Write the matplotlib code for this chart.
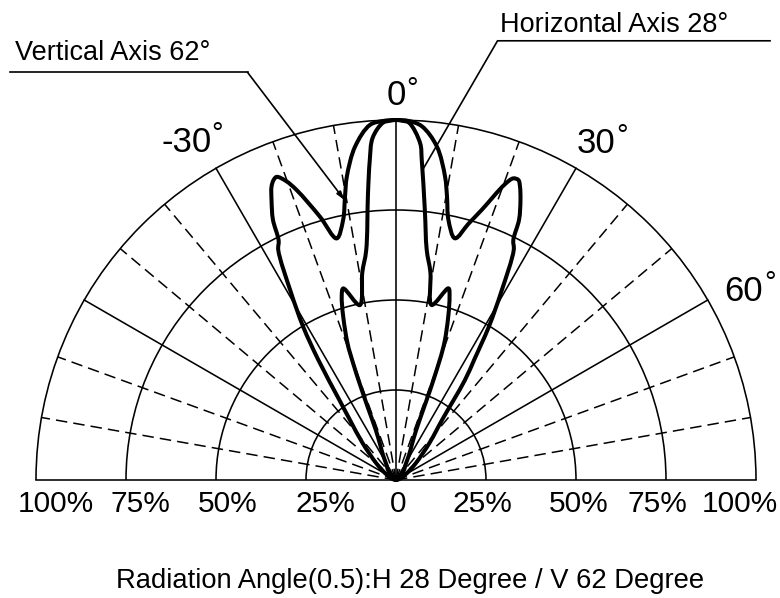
import numpy as np
import matplotlib
matplotlib.use("Agg")
import matplotlib.pyplot as plt
from matplotlib.patches import Arc, PathPatch
from matplotlib.path import Path

plt.rcParams['font.family'] = ['Liberation Sans', 'DejaVu Sans']

# ---------------- data ----------------
ring_levels = [0.25, 0.50, 0.75, 1.00]
solid_spokes = [-60, -30, 0, 30, 60]
dashed_spokes = [-80, -70, -50, -40, -20, -10, 10, 20, 40, 50, 70, 80]

pct_labels = ['100%', '75%', '50%', '25%', '0', '25%', '50%', '75%', '100%']
angle_labels = ['-30', '0', '30', '60']

# Horizontal axis (narrow beam, 28 deg)
h_angle = [-90, -65, -50, -39, -32, -27.5, -24, -22, -21.2, -20.7, -20.3, -19.4,
           -16.5, -15.4, -11.7, -9.2, -7.4, -5.6, -4.7, -3.9, -2.1, -1.0, 0,
           1.0, 2.1, 4.1, 4.6, 6.1, 7.6, 9.4, 11.5, 15.3, 16.3, 19.3, 20.5, 21.0,
           22, 24, 27.5, 32, 39, 50, 65, 90]
h_rel = [0.0, 0.005, 0.015, 0.035, 0.05, 0.078, 0.11, 0.15, 0.22, 0.28, 0.33, 0.41,
         0.531, 0.552, 0.496, 0.585, 0.643, 0.798, 0.89, 0.953, 0.993, 0.998, 1.0,
         0.998, 0.993, 0.938, 0.892, 0.754, 0.645, 0.585, 0.496, 0.552, 0.53, 0.41, 0.30, 0.23,
         0.15, 0.11, 0.078, 0.05, 0.035, 0.015, 0.005, 0.0]

# Vertical axis (wide beam with side lobes, 62 deg)
v_angle = [-90, -75, -60, -50, -42, -37.5, -35.3, -32.9, -31.2, -29.2, -27.1, -26.1,
           -25.3, -24.0, -23.0, -22.2, -21.5, -20.2, -18.9, -16.1, -13.8, -11.5, -10.2,
           -9.2, -7.0, -4.2, -2.0, 0,
           2.0, 4.2, 7.0, 9.2, 10.2, 11.4, 13.7, 15.8, 17.6, 20.2, 21.25, 22.2, 22.9, 24.0,
           25.3, 26.05, 27.1, 29.2, 31.2, 33.0, 34.6, 37.5, 42, 50, 60, 75, 90]
v_rel = [0.0, 0.01, 0.03, 0.07, 0.14, 0.21, 0.272, 0.397, 0.498, 0.60, 0.718, 0.741,
         0.80, 0.85, 0.885, 0.90, 0.905, 0.885, 0.851, 0.761, 0.691, 0.737, 0.80,
         0.854, 0.933, 0.989, 0.998, 1.0,
         0.998, 0.985, 0.933, 0.853, 0.80, 0.737, 0.691, 0.74, 0.787, 0.875, 0.899, 0.90, 0.885, 0.85,
         0.80, 0.742, 0.718, 0.60, 0.498, 0.40, 0.337, 0.21, 0.14, 0.07, 0.03, 0.01, 0.0]

title = 'Radiation Angle(0.5):H 28 Degree / V 62 Degree'
h_label = 'Horizontal Axis 28°'
v_label = 'Vertical Axis 62°'


def to_xy(theta_deg, r):
    t = np.radians(np.asarray(theta_deg, dtype=float))
    r = np.asarray(r, dtype=float)
    return r * np.sin(t), r * np.cos(t)


def smooth_path(x, y, alpha=0.5):
    """Centripetal Catmull-Rom through the points, as cubic Bezier path."""
    P = np.column_stack([x, y])
    P = np.vstack([2 * P[0] - P[1], P, 2 * P[-1] - P[-2]])
    verts = [P[1]]
    codes = [Path.MOVETO]
    for i in range(1, len(P) - 2):
        p0, p1, p2, p3 = P[i - 1], P[i], P[i + 1], P[i + 2]
        d0 = max(np.linalg.norm(p1 - p0) ** alpha, 1e-9)
        d1 = max(np.linalg.norm(p2 - p1) ** alpha, 1e-9)
        d2 = max(np.linalg.norm(p3 - p2) ** alpha, 1e-9)
        m1 = (p2 - p1) + d1 * ((p1 - p0) / d0 - (p2 - p0) / (d0 + d1))
        m2 = (p2 - p1) + d1 * ((p3 - p2) / d2 - (p3 - p1) / (d1 + d2))
        verts += [p1 + m1 / 3, p2 - m2 / 3, p2]
        codes += [Path.CURVE4] * 3
    return Path(verts, codes)


# ---------------- figure ----------------
fig = plt.figure(figsize=(7.80, 5.98), dpi=100)
ax = fig.add_axes([0, 0, 1, 1])
ax.set_xlim(-396 / 360, (780 - 396) / 360)
ax.set_ylim((480 - 598) / 360, 480 / 360)
ax.set_aspect('equal')
ax.axis('off')

grid_lw = 1.15
for lvl in ring_levels:
    ax.add_patch(Arc((0, 0), 2 * lvl, 2 * lvl, theta1=0, theta2=180,
                     lw=grid_lw, color='black'))
ax.plot([-1, 1], [0, 0], color='black', lw=grid_lw)
for a in solid_spokes:
    x, y = to_xy([a, a], [0, 1])
    ax.plot(x, y, color='black', lw=grid_lw)
for a in dashed_spokes:
    x, y = to_xy([a, a], [0, 1])
    ax.plot(x, y, color='black', lw=1.1, dashes=(7.5, 4))

# curves
for ang, rel in [(h_angle, h_rel), (v_angle, v_rel)]:
    cx, cy = to_xy(ang, rel)
    ax.add_patch(PathPatch(smooth_path(cx, cy), facecolor='none',
                           edgecolor='black', lw=2.9, joinstyle='round',
                           capstyle='round'))

# percentage labels
pct_x = [-0.945, -0.711, -0.468, -0.197, 0.007, 0.240, 0.507, 0.726, 0.956]
for lab, x in zip(pct_labels, pct_x):
    ax.text(x, -0.088, lab, ha='center', va='baseline', fontsize=21.5)

# angle labels
deg_fs = 21
ang_pos = [(-0.512, 0.912, 'right'), (0.002, 1.0417, 'center'),
           (0.556, 0.909, 'center'), (0.965, 0.498, 'center')]
for lab, (x, y, ha) in zip(angle_labels, ang_pos):
    ax.text(x, y, lab, ha=ha, va='baseline', fontsize=25)


def degree(x, y, fs=deg_fs):
    ax.annotate('°', (x, y), xytext=(0, -0.58 * fs), textcoords='offset points',
                ha='center', va='baseline', fontsize=fs, fontweight='light')


for x, y in [(-0.496, 0.986), (0.046, 1.111), (0.627, 0.981), (1.039, 0.572)]:
    degree(x, y)

# annotations
ax.text(0.289, 1.245, h_label, ha='left', va='baseline', fontsize=19.5)
ax.text(-1.058, 1.1667, v_label, ha='left', va='baseline', fontsize=19.5)

lead_lw = 1.2
hx0, hy0 = to_xy(4.9, np.interp(4.9, h_angle, h_rel))
ax.plot([1.039, 0.282, hx0], [1.220, 1.220, hy0], color='black', lw=lead_lw)
vx0, vy0 = to_xy(-10.4, np.interp(-10.4, v_angle, v_rel))
ax.plot([-1.072, -0.4125], [1.1325, 1.1325], color='black', lw=lead_lw)
ax.annotate('', xy=(vx0, vy0), xytext=(-0.4125, 1.1325),
            arrowprops=dict(arrowstyle='-|>,head_length=0.5,head_width=0.15',
                            lw=lead_lw, color='black', shrinkA=0, shrinkB=0))

ax.text(0.039, -0.301, title, ha='center', va='baseline', fontsize=19.7)

fig.savefig('out.png', dpi=100)
